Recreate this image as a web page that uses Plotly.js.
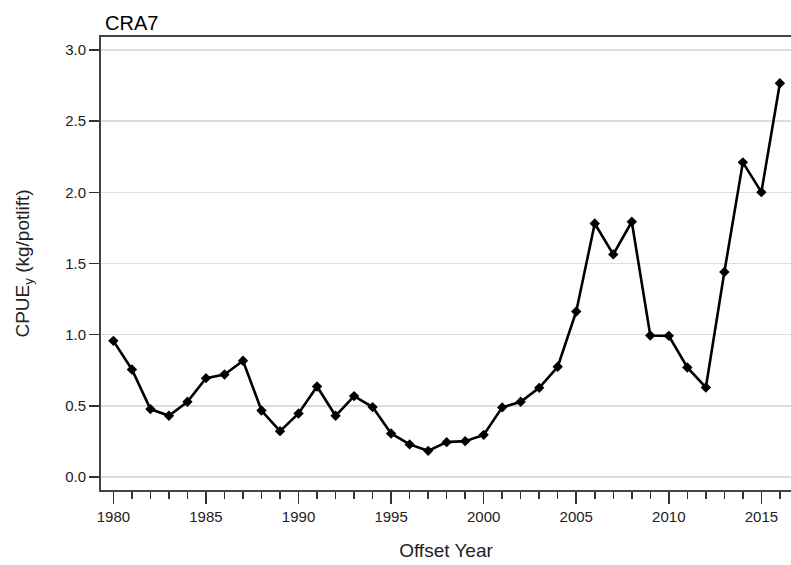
<!DOCTYPE html>
<html>
<head>
<meta charset="utf-8">
<script src="https://cdn.plot.ly/plotly-3.0.1.min.js"></script>
<style>
  html, body { margin: 0; padding: 0; background: #fff; }
  #plot { width: 791px; height: 565px; }
</style>
</head>
<body>
<div id="plot"></div>
<script>
// CPUE series for CRA7
var years = [1980, 1981, 1982, 1983, 1984, 1985, 1986, 1987, 1988, 1989,
             1990, 1991, 1992, 1993, 1994, 1995, 1996, 1997, 1998, 1999,
             2000, 2001, 2002, 2003, 2004, 2005, 2006, 2007, 2008, 2009,
             2010, 2011, 2012, 2013, 2014, 2015, 2016];
var cpue = [0.957, 0.756, 0.478, 0.431, 0.529, 0.695, 0.721, 0.817, 0.468, 0.323,
            0.447, 0.637, 0.431, 0.569, 0.492, 0.307, 0.230, 0.185, 0.246, 0.253,
            0.297, 0.490, 0.529, 0.627, 0.775, 1.163, 1.781, 1.564, 1.793, 0.995,
            0.992, 0.770, 0.630, 1.440, 2.210, 2.001, 2.765];
var xTicks = [1980, 1985, 1990, 1995, 2000, 2005, 2010, 2015];
var yTicks = [0, 0.5, 1, 1.5, 2, 2.5, 3];

var trace = {
    x: years,
    y: cpue,
    type: "scatter",
    mode: "lines+markers",
    line: {color: "#000", width: 2.6},
    marker: {symbol: "diamond", size: 8, color: "#000"},
    showlegend: false
};

var font = "'Liberation Sans', Arial, sans-serif";

var layout = {
    width: 791,
    height: 565,
    margin: {l: 101, r: 0, t: 37, b: 75},
    paper_bgcolor: "#fff",
    plot_bgcolor: "#fff",
    font: {family: font, color: "#222", size: 15},
    title: {
        text: "CRA7",
        font: {family: font, size: 20, color: "#000"},
        x: 0, xref: "paper", xanchor: "left",
        y: 1, yref: "paper", yanchor: "bottom",
        pad: {l: 4, b: 7}
    },
    xaxis: {
        range: [1979.33, 2016.6],
        tickvals: xTicks,
        ticktext: xTicks.map(String),
        ticks: "outside",
        ticklen: 12,
        tickwidth: 1.5,
        tickcolor: "#333",
        showline: true,
        linecolor: "#444",
        linewidth: 2,
        mirror: true,
        showgrid: false,
        zeroline: false,
        minor: {dtick: 1, tick0: 1980, ticks: "outside", ticklen: 7, tickwidth: 1.5, tickcolor: "#333", showgrid: false},
        tickfont: {size: 15, color: "#222"},
        title: {text: "Offset Year", font: {size: 19, color: "#222"}, standoff: 20}
    },
    yaxis: {
        range: [-0.09, 3.09],
        tickvals: yTicks,
        ticktext: yTicks.map(function (v) { return v.toFixed(1); }),
        ticks: "outside",
        ticklen: 10,
        tickwidth: 1.5,
        tickcolor: "#333",
        showline: true,
        linecolor: "#444",
        linewidth: 2,
        mirror: false,
        showgrid: true,
        gridcolor: "#ddd",
        gridwidth: 1.5,
        zeroline: false,
        tickfont: {size: 15, color: "#222"},
        title: {text: "CPUE<sub>y</sub> (kg/potlift)", font: {size: 19, color: "#222"}, standoff: 30}
    }
};

Plotly.newPlot("plot", [trace], layout, {displayModeBar: false, staticPlot: true});
</script>
</body>
</html>
